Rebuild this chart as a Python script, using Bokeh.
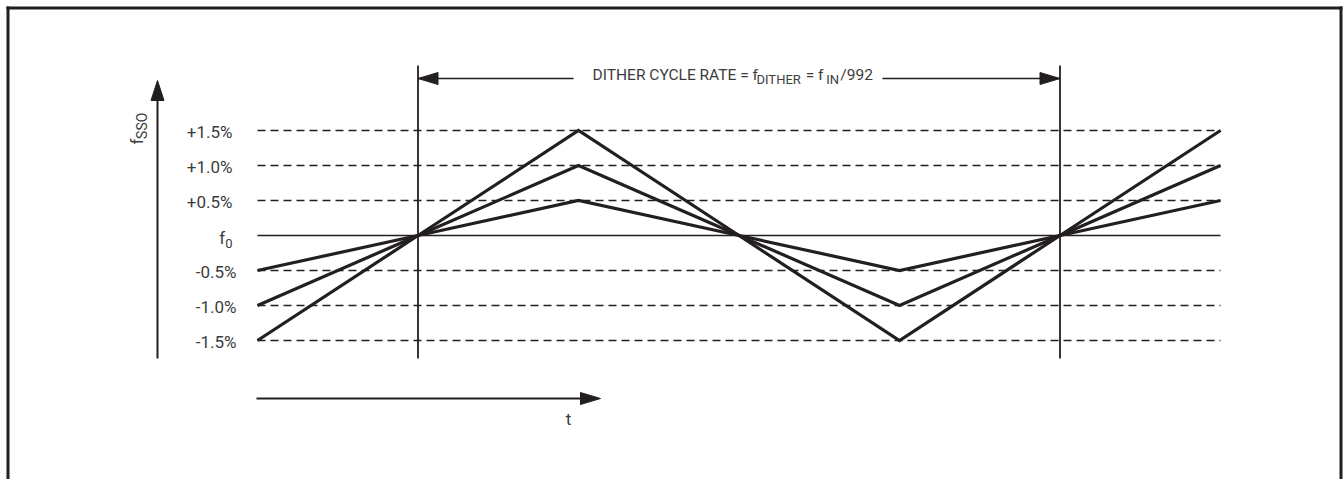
import numpy as np
from bokeh.plotting import figure
from bokeh.models import Range1d
from bokeh.core.properties import value
from bokeh.embed import file_html
from bokeh.resources import INLINE

# ---------------- data ----------------
t_points = [-1, 0, 1, 2, 3, 4, 5]            # time, in quarter dither cycles
spread_05 = [-0.5, 0, 0.5, 0, -0.5, 0, 0.5]   # % deviation
spread_10 = [-1.0, 0, 1.0, 0, -1.0, 0, 1.0]
spread_15 = [-1.5, 0, 1.5, 0, -1.5, 0, 1.5]
levels = [1.5, 1.0, 0.5, -0.5, -1.0, -1.5]
level_labels = ["+1.5%", "+1.0%", "+0.5%", "-0.5%", "-1.0%", "-1.5%"]
cycle_bounds = [0, 4]
title_parts = [("DITHER CYCLE RATE = f", False), ("DITHER", True),
               (" = f", False), ("IN", True), ("/992", False)]
y_label = ("f", "SSO")
f0_label = ("f", "0")
x_label = "t"

# ---------------- layout ----------------
W, H = 1343, 479
PX_T0, PX_PER_T = 257.0, 160.5
PY_ZERO, PY_PER_PCT = 235.0, 70.0
xs = -1 - PX_T0 / PX_PER_T
xe = xs + W / PX_PER_T
ye = PY_ZERO / PY_PER_PCT
ys = ye - H / PY_PER_PCT


def X(px):
    return xs + px / PX_PER_T


def Y(py):
    return ye - py / PY_PER_PCT


INK = "#231f20"
TXT = "#3c3c3c"
FONT = "Roboto"
TICK = 17
MAIN = 15.5
SUB = 13

ROBOTO = {" ": .248, "D": .657, "I": .275, "T": .610, "H": .714, "E": .567,
          "R": .616, "C": .651, "Y": .600, "L": .538, "A": .653, "=": .549,
          "f": .30, "N": .714, "/": .412, "9": .562, "2": .562, "S": .593,
          "O": .688, "0": .562}


def text_w(s, size, fudge=1.0):
    return sum(ROBOTO.get(c, .562) for c in s) * size * fudge


def txt(xv, yv, s, size, align="left", angle=0.0):
    p.text(x=xv, y=yv, text=s, angle=angle, text_font=value(FONT),
           text_font_size=f"{size}px", text_color=TXT, text_align=align,
           text_baseline="middle")


p = figure(width=W, height=H, x_range=Range1d(xs, xe), y_range=Range1d(ys, ye),
           x_axis_type=None, y_axis_type=None, toolbar_location=None,
           output_backend="svg", min_border=0)
p.outline_line_color = None
p.grid.visible = False
p.background_fill_color = "white"

# frame
p.line([X(7.5), X(7.5)], [Y(6), Y(H)], line_color=INK, line_width=3)
p.line([X(6), X(1342)], [Y(7.5), Y(7.5)], line_color=INK, line_width=3)
p.line([X(1340.5), X(1340.5)], [Y(6), Y(H)], line_color=INK, line_width=3)

# reference levels
for lv in levels:
    p.line([t_points[0], t_points[-1]], [lv, lv], line_color=INK, line_width=1.6,
           line_dash="8 5")
p.line([t_points[0], t_points[-1]], [0, 0], line_color=INK, line_width=1.6)

# cycle boundaries
for cb in cycle_bounds:
    p.line([cb, cb], [Y(65), Y(358)], line_color=INK, line_width=1.8)

# triangle waves
for series in (spread_05, spread_10, spread_15):
    p.line(t_points, series, line_color=INK, line_width=3.2, line_join="miter")

# dimension arrow (top)
dim_y = Y(78)
p.line([cycle_bounds[0], X(573)], [dim_y, dim_y], line_color=INK, line_width=1.6)
p.line([X(882), cycle_bounds[1]], [dim_y, dim_y], line_color=INK, line_width=1.6)
lt = cycle_bounds[0]
rt = cycle_bounds[1]
p.patch([lt, lt + 20 / PX_PER_T, lt + 20 / PX_PER_T],
        [dim_y, dim_y + 6 / PY_PER_PCT, dim_y - 6 / PY_PER_PCT], color=INK)
p.patch([rt, rt - 20 / PX_PER_T, rt - 20 / PX_PER_T],
        [dim_y, dim_y + 6 / PY_PER_PCT, dim_y - 6 / PY_PER_PCT], color=INK)

# title pieces
def part_w(s, sub):
    return text_w(s, SUB, 1.1) if sub else text_w(s, MAIN, 0.985)


total = sum(part_w(s, sub) for s, sub in title_parts)
cx = 732 - total / 2
for s, sub in title_parts:
    txt([X(cx)], [Y(78.5 if sub else 74)], [s], SUB if sub else MAIN)
    cx += part_w(s, sub)

# y axis arrow
ax = X(157)
p.line([ax, ax], [Y(358), Y(98)], line_color=INK, line_width=2)
p.patch([ax, ax - 6.5 / PX_PER_T, ax + 6.5 / PX_PER_T], [Y(80), Y(100), Y(100)], color=INK)

# y label (rotated)
fy0 = 144
txt([X(136)], [Y(fy0)], [y_label[0]], TICK, angle=np.pi / 2)
txt([X(141)], [Y(fy0 - text_w(y_label[0], TICK) - 0.5)], [y_label[1]], SUB + 1,
    angle=np.pi / 2)

# level labels
lx = [X(232) if lab.startswith("+") else X(236) for lab in level_labels]
ly = [lv - 1.5 / PY_PER_PCT for lv in levels]
txt(lx, ly, level_labels, TICK, align="right")

# f0 label
sub_w = text_w(f0_label[1], SUB)
txt([X(232 - sub_w)], [-2 / PY_PER_PCT], [f0_label[0]], TICK, align="right")
txt([X(232)], [-8 / PY_PER_PCT], [f0_label[1]], SUB, align="right")

# time arrow
ty = Y(398)
p.line([X(256), X(585)], [ty, ty], line_color=INK, line_width=2)
p.patch([X(600), X(580), X(580)], [ty, ty + 6 / PY_PER_PCT, ty - 6 / PY_PER_PCT], color=INK)
txt([X(568)], [Y(418)], [x_label], TICK, align="center")

open("out.html", "w").write(file_html(p, INLINE))
